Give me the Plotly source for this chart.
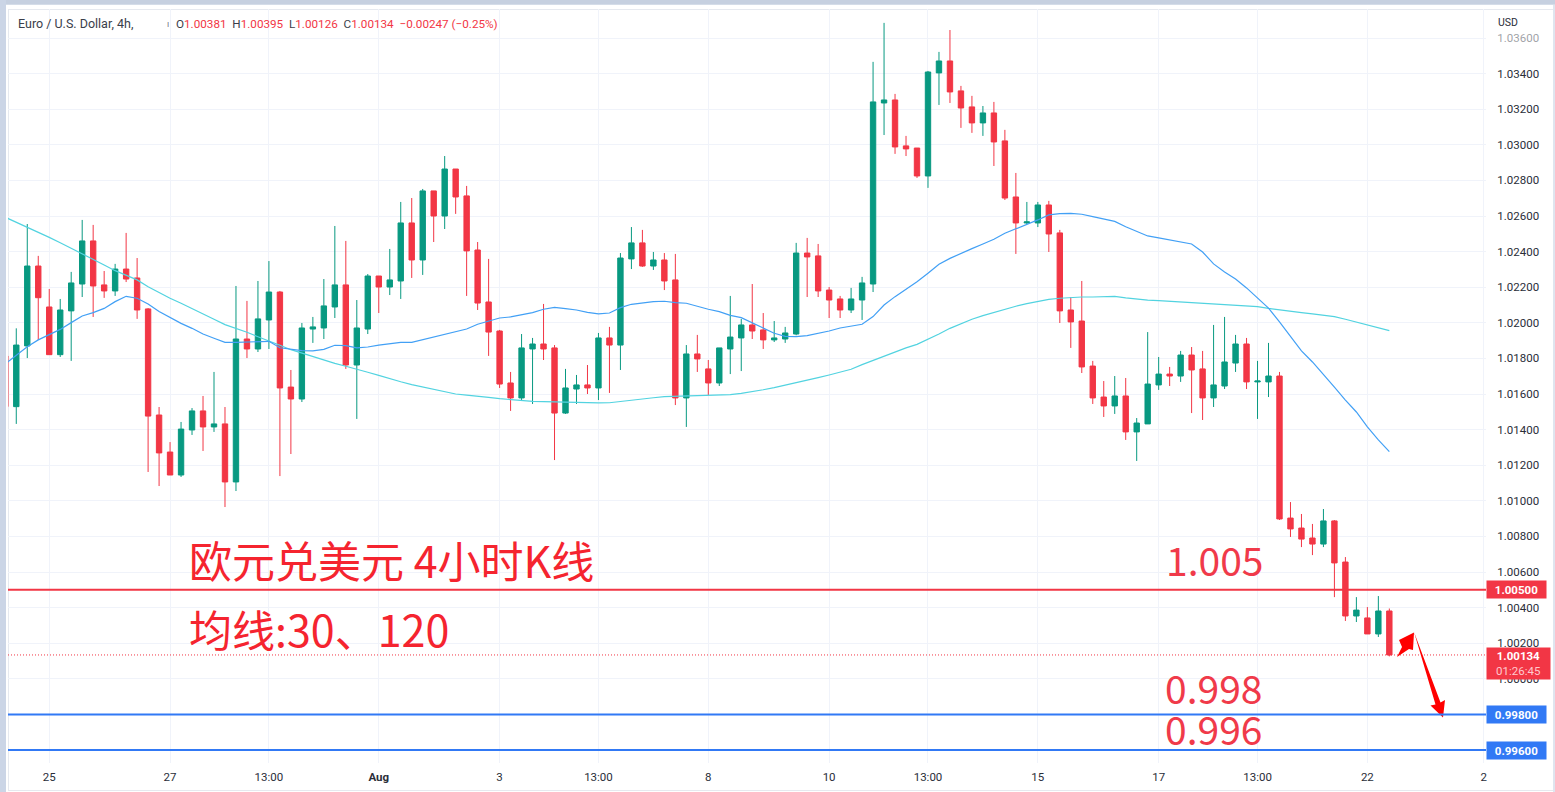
import plotly.graph_objects as go

# ---------- data ----------
opens = [1.01814,1.01529,1.01870,1.02319,1.02089,1.01821,1.02067,1.02218,1.02460,1.02213,1.02179,1.02302,1.02252,1.02078,1.01482,1.01274,
1.01145,1.01398,1.01505,1.01415,1.01432,1.01106,1.01909,1.01853,1.02016,1.02173,1.01639,1.01572,1.01965,1.01971,1.02089,1.02213,
1.01763,1.01965,1.02263,1.02201,1.02235,1.02561,1.02353,1.02741,1.02600,1.02864,1.02713,1.02409,1.02117,1.01954,1.01662,1.01578,
1.01853,1.01881,1.01859,1.01493,1.01628,1.01651,1.01634,1.01915,1.01875,1.02359,1.02449,1.02319,1.02353,1.02241,1.01578,1.01825,
1.01741,1.01662,1.01853,1.01915,1.01988,1.01960,1.01904,1.01909,1.01937,1.02392,1.02376,1.02184,1.02134,1.02072,1.02128,1.02218,
1.03235,1.03252,1.02994,1.02982,1.02825,1.03404,1.03471,1.03303,1.03213,1.03123,1.03179,1.03022,1.02707,1.02561,1.02561,1.02662,
1.02505,1.02072,1.02010,1.01757,1.01583,1.01533,1.01589,1.01387,1.01432,1.01651,1.01712,1.01701,1.01819,1.01741,1.01578,1.01645,
1.01774,1.01881,1.01668,1.01668,1.01701,1.00903,1.00847,1.00791,1.00757,1.00887,1.00656,1.00353,1.00342,1.00252,1.00381]
highs = [1.01814,1.01969,1.02555,1.02376,1.02190,1.02134,1.02286,1.02578,1.02550,1.02291,1.02331,1.02505,1.02364,1.02083,1.01527,1.01330,
1.01443,1.01521,1.01589,1.01724,1.01527,1.02207,1.02123,1.02235,1.02347,1.02179,1.01735,1.01999,1.02033,1.02246,1.02544,1.02460,
1.02128,1.02274,1.02263,1.02415,1.02679,1.02701,1.02752,1.02741,1.02937,1.02864,1.02769,1.02454,1.02359,1.01960,1.01724,1.01937,
1.01915,1.02106,1.01875,1.01741,1.01707,1.01763,1.01943,1.01977,1.02392,1.02538,1.02522,1.02398,1.02392,1.02387,1.01875,1.01932,
1.01791,1.01859,1.02151,1.02022,1.02218,1.02055,1.02010,1.01977,1.02449,1.02477,1.02443,1.02201,1.02151,1.02196,1.02258,1.03466,
1.03685,1.03286,1.03050,1.02982,1.03415,1.03522,1.03645,1.03331,1.03275,1.03218,1.03241,1.03084,1.02842,1.02679,1.02679,1.02685,
1.02522,1.02145,1.02235,1.01786,1.01673,1.01701,1.01690,1.01465,1.01948,1.01808,1.01752,1.01842,1.01864,1.01842,1.01988,1.02033,
1.01932,1.01915,1.01786,1.01887,1.01724,1.00993,1.00926,1.00870,1.00954,1.00892,1.00684,1.00459,1.00403,1.00465,1.00395]
lows = [1.01529,1.01432,1.01802,1.01904,1.01821,1.01808,1.01786,1.02145,1.02033,1.02140,1.02151,1.02229,1.02022,1.01162,1.01083,1.01145,
1.01134,1.01370,1.01280,1.01387,1.00965,1.01055,1.01802,1.01836,1.01853,1.01139,1.01263,1.01555,1.01887,1.01909,1.02027,1.01741,
1.01460,1.01937,1.02055,1.02156,1.02134,1.02252,1.02269,1.02454,1.02527,1.02612,1.02151,1.02072,1.01814,1.01634,1.01505,1.01566,
1.01544,1.01791,1.01229,1.01488,1.01544,1.01600,1.01566,1.01606,1.01735,1.02302,1.02314,1.02297,1.02184,1.01538,1.01415,1.01724,
1.01594,1.01645,1.01712,1.01729,1.01909,1.01853,1.01892,1.01887,1.01930,1.02145,1.02145,1.02027,1.02027,1.02055,1.02016,1.02173,
1.03055,1.02949,1.02937,1.02814,1.02758,1.03224,1.03235,1.03095,1.03067,1.03050,1.02881,1.02690,1.02387,1.02555,1.02538,1.02398,
1.01999,1.01859,1.01718,1.01544,1.01471,1.01488,1.01342,1.01224,1.01432,1.01623,1.01645,1.01668,1.01493,1.01454,1.01527,1.01628,
1.01724,1.01628,1.01460,1.01583,1.00892,1.00797,1.00740,1.00695,1.00740,1.00459,1.00325,1.00319,1.00252,1.00235,1.00126]
closes = [1.01529,1.01875,1.02319,1.02141,1.01821,1.02072,1.02224,1.02460,1.02207,1.02179,1.02302,1.02246,1.02072,1.01476,1.01269,1.01145,
1.01403,1.01505,1.01415,1.01432,1.01106,1.01909,1.01853,1.02022,1.02173,1.01634,1.01572,1.01971,1.01977,1.02095,1.02213,1.01763,
1.01971,1.02263,1.02201,1.02241,1.02561,1.02353,1.02741,1.02600,1.02864,1.02707,1.02404,1.02111,1.01948,1.01656,1.01578,1.01859,
1.01881,1.01853,1.01493,1.01634,1.01651,1.01634,1.01915,1.01875,1.02364,1.02449,1.02319,1.02353,1.02235,1.01578,1.01825,1.01797,
1.01662,1.01859,1.01920,1.01988,1.01954,1.01904,1.01915,1.01943,1.02392,1.02370,1.02179,1.02128,1.02072,1.02134,1.02224,1.03241,
1.03252,1.02988,1.02977,1.02825,1.03409,1.03471,1.03297,1.03207,1.03123,1.03179,1.03016,1.02701,1.02561,1.02567,1.02662,1.02499,
1.02067,1.02005,1.01752,1.01578,1.01533,1.01589,1.01387,1.01437,1.01656,1.01712,1.01701,1.01819,1.01735,1.01578,1.01651,1.01780,
1.01881,1.01668,1.01673,1.01701,1.00898,1.00842,1.00785,1.00757,1.00887,1.00651,1.00353,1.00386,1.00252,1.00381,1.00134]
ma30 = [1.01769,1.01819,1.01866,1.01904,1.01932,1.01963,1.02001,1.02038,1.02057,1.02081,1.02119,1.02149,1.02138,1.02106,1.02063,1.02029,
1.01997,1.01969,1.01937,1.01913,1.01890,1.01890,1.01892,1.01890,1.01896,1.01860,1.01853,1.01844,1.01842,1.01851,1.01874,1.01872,
1.01859,1.01864,1.01875,1.01881,1.01890,1.01890,1.01905,1.01919,1.01937,1.01952,1.01965,1.01992,1.02010,1.02027,1.02033,1.02044,
1.02057,1.02076,1.02087,1.02080,1.02072,1.02059,1.02050,1.02055,1.02085,1.02104,1.02113,1.02119,1.02121,1.02113,1.02110,1.02091,
1.02076,1.02063,1.02042,1.02029,1.02001,1.01969,1.01941,1.01924,1.01922,1.01928,1.01939,1.01954,1.01971,1.01980,1.01992,1.02035,
1.02100,1.02147,1.02188,1.02231,1.02278,1.02329,1.02362,1.02391,1.02417,1.02443,1.02469,1.02503,1.02527,1.02550,1.02578,1.02606,
1.02613,1.02615,1.02610,1.02597,1.02583,1.02570,1.02540,1.02512,1.02488,1.02477,1.02465,1.02454,1.02443,1.02398,1.02331,1.02286,
1.02246,1.02196,1.02140,1.02083,1.02005,1.01920,1.01842,1.01780,1.01712,1.01639,1.01566,1.01499,1.01415,1.01342,1.01276]
ma120 = [1.02593,1.02565,1.02540,1.02512,1.02480,1.02450,1.02419,1.02391,1.02357,1.02325,1.02293,1.02269,1.02241,1.02203,1.02169,1.02138,
1.02110,1.02081,1.02053,1.02020,1.01990,1.01969,1.01947,1.01922,1.01900,1.01874,1.01849,1.01829,1.01810,1.01791,1.01772,1.01756,
1.01741,1.01722,1.01705,1.01686,1.01669,1.01653,1.01639,1.01626,1.01613,1.01600,1.01594,1.01589,1.01581,1.01574,1.01568,1.01563,
1.01559,1.01557,1.01555,1.01553,1.01551,1.01550,1.01550,1.01551,1.01559,1.01566,1.01574,1.01579,1.01585,1.01587,1.01587,1.01587,
1.01589,1.01591,1.01596,1.01604,1.01613,1.01624,1.01636,1.01649,1.01664,1.01679,1.01692,1.01707,1.01722,1.01739,1.01765,1.01789,
1.01814,1.01836,1.01859,1.01879,1.01907,1.01937,1.01969,1.01995,1.02020,1.02040,1.02059,1.02078,1.02093,1.02108,1.02121,1.02132,
1.02138,1.02143,1.02145,1.02145,1.02147,1.02149,1.02140,1.02132,1.02128,1.02125,1.02121,1.02117,1.02113,1.02110,1.02106,1.02102,
1.02100,1.02096,1.02091,1.02081,1.02072,1.02065,1.02057,1.02050,1.02042,1.02035,1.02020,1.02005,1.01990,1.01973,1.01956]
candle_index = list(range(len(opens)))

time_tick_pos = [4,15,24,34,45,54,64,75,84,94,105,114,124,134.6]
time_tick_text = ["25","27","13:00","<b>Aug</b>","3","13:00","8","10","13:00","15","17","13:00","22","2"]
price_ticks = [0.996,0.998,1.000,1.002,1.004,1.006,1.008,1.010,1.012,1.014,1.016,1.018,1.020,1.022,1.024,1.026,1.028,1.030,1.032,1.034,1.036]
red_level = 1.005
blue_levels = [0.998,0.996]
last_price = 1.00134
# the two lowest ticks sit wholly behind their price tags, so they carry no label of their own
price_tick_text = ["" if t in blue_levels else f"{t:.5f}" for t in price_ticks]

# ---------- styles / layout ----------
W, H = 1555, 792
L, R, T, B = 8, 1486, 9, 763
UP, DOWN = "#089981", "#f23645"
BLUE = "#3179f5"
TXT = "#2a2e39"
FRAME = "#cbd5e6"
EDGE = "#e6e9ef"
FONT = "Roboto"
CJK = "Noto Sans CJK SC"
BIG = "#f5242f"
NUM = "#f03a4a"

def px(x): return (x-L)/(R-L)
def py(y): return 1-(y-T)/(B-T)
def poly(pts):
    return "M"+" L".join(f"{px(a):.5f},{py(b):.5f}" for a,b in pts)+" Z"
def rect(x0,y0,x1,y1,color,layer="below",opacity=1):
    return dict(type="rect",xref="paper",yref="paper",x0=px(x0),x1=px(x1),y0=py(y0),y1=py(y1),
                fillcolor=color,line_width=0,layer=layer,opacity=opacity)

fig = go.Figure()
fig.add_trace(go.Scatter(x=candle_index,y=ma120,mode="lines",line=dict(color="#52d3e0",width=1.2),hoverinfo="skip"))
fig.add_trace(go.Scatter(x=candle_index,y=ma30,mode="lines",line=dict(color="#42a0f5",width=1.2),hoverinfo="skip"))
fig.add_trace(go.Candlestick(x=candle_index,open=opens,high=highs,low=lows,close=closes,whiskerwidth=0,
    increasing=dict(line=dict(color=UP,width=1),fillcolor=UP),
    decreasing=dict(line=dict(color=DOWN,width=1),fillcolor=DOWN)))

shapes = [
    rect(0,0,W,4.7,"#c6d0e0"),
    rect(0,0,6,H,FRAME),
    rect(8,9,W-2,10,EDGE),
    rect(8,9,9,790.5,EDGE),
    rect(8,790,W-2,791,EDGE),
    rect(W-2,5,W,H,"#dfe5ef"),
    rect(1490,30,1550,45,"#ffffff","above",0.55),
    dict(type="line",xref="paper",yref="y",x0=0,x1=1,y0=red_level,y1=red_level,line=dict(color=DOWN,width=2)),
    dict(type="line",xref="paper",yref="y",x0=0,x1=1,y0=last_price,y1=last_price,line=dict(color=DOWN,width=1,dash="1px,2px")),
    dict(type="path",xref="paper",yref="paper",fillcolor="#ff0000",line_width=0,
         path=poly([(1397,657),(1402,647),(1399,640),(1414,632.5),(1413,650),(1409,649)])),
    dict(type="path",xref="paper",yref="paper",fillcolor="#ff0000",line_width=0,
         path=poly([(1414,632),(1435.5,704.5),(1430.5,705.5),(1443,717.5),(1445,700),(1440.5,702.5)])),
]
for lv in blue_levels:
    shapes.append(dict(type="line",xref="paper",yref="y",x0=0,x1=1,y0=lv,y1=lv,line=dict(color=BLUE,width=2)))

def note(x,y,text,size,color,family=FONT,xanchor="left",**kw):
    return dict(xref="paper",yref="paper",x=px(x),y=py(y),text=text,showarrow=False,xanchor=xanchor,yanchor="middle",
                font=dict(size=size,color=color,family=family),**kw)
def tag(level,color):
    return dict(xref="paper",yref="y",x=1,y=level,text=f"<b>{level:.5f}</b>",showarrow=False,xanchor="left",yanchor="middle",
                width=59,height=17,bgcolor=color,borderpad=0,align="center",font=dict(size=11.5,color="#ffffff",family=FONT))

r = lambda s: f"<span style='color:{DOWN}'>{s}</span>"
ohlc = "O"+r("1.00381")+"  H"+r("1.00395")+"  L"+r("1.00126")+"  C"+r("1.00134")+"  "+r("−0.00247 (−0.25%)")
annotations = [
    note(16,24,"Euro / U.S. Dollar, 4h,",12.5,"#3a3e4a"),
    note(165,24,"ı",9,"#787b86"),
    note(174,24,ohlc,11.7,"#3a3e4a"),
    note(1496,22,"USD",10.5,TXT),
    note(187,559,"欧元兑美元 4小时K线",43,BIG,CJK),
    note(187,628,"均线:30、120",43,BIG,CJK),
    note(1164,559,"1.005",39,NUM,CJK),
    note(1163,687,"0.998",39,NUM,CJK),
    note(1163,728,"0.996",39,NUM,CJK),
    tag(red_level,DOWN), tag(blue_levels[0],BLUE), tag(blue_levels[1],BLUE),
    dict(xref="paper",yref="y",x=1,y=last_price,yshift=8,text="<b>1.00134</b><br><span style='color:#ffc9cf'>01:26:45</span>",
         showarrow=False,xanchor="left",yanchor="top",width=63,height=31,bgcolor=DOWN,borderpad=0,align="center",
         font=dict(size=11.5,color="#ffffff",family=FONT)),
]

fig.update_layout(
    width=W,height=H,autosize=False,showlegend=False,
    margin=dict(l=L,r=W-R,t=T,b=H-B,pad=0,autoexpand=False),
    paper_bgcolor="#ffffff",plot_bgcolor="#ffffff",
    shapes=shapes,annotations=annotations,
    xaxis=dict(range=[0.246,134.8],rangeslider=dict(visible=False),tickmode="array",tickvals=time_tick_pos,ticktext=time_tick_text,
               automargin=False,showgrid=True,gridcolor="#f0f3fa",gridwidth=1,zeroline=False,showline=False,ticks="outside",ticklen=3,tickcolor="#ffffff",
               tickangle=0,tickfont=dict(size=11.5,color=TXT,family=FONT)),
    yaxis=dict(side="right",range=[0.99527,1.03763],tickmode="array",tickvals=price_ticks,ticktext=price_tick_text,
               automargin=False,showgrid=True,gridcolor="#f0f3fa",gridwidth=1,zeroline=False,showline=False,ticks="outside",ticklen=8,tickcolor="#ffffff",
               tickfont=dict(size=11.5,color=TXT,family=FONT)),
)
post = "document.body.style.margin='0';document.documentElement.style.overflow='hidden';"
fig.write_html("out.html",config={"displayModeBar":False},post_script=post)
